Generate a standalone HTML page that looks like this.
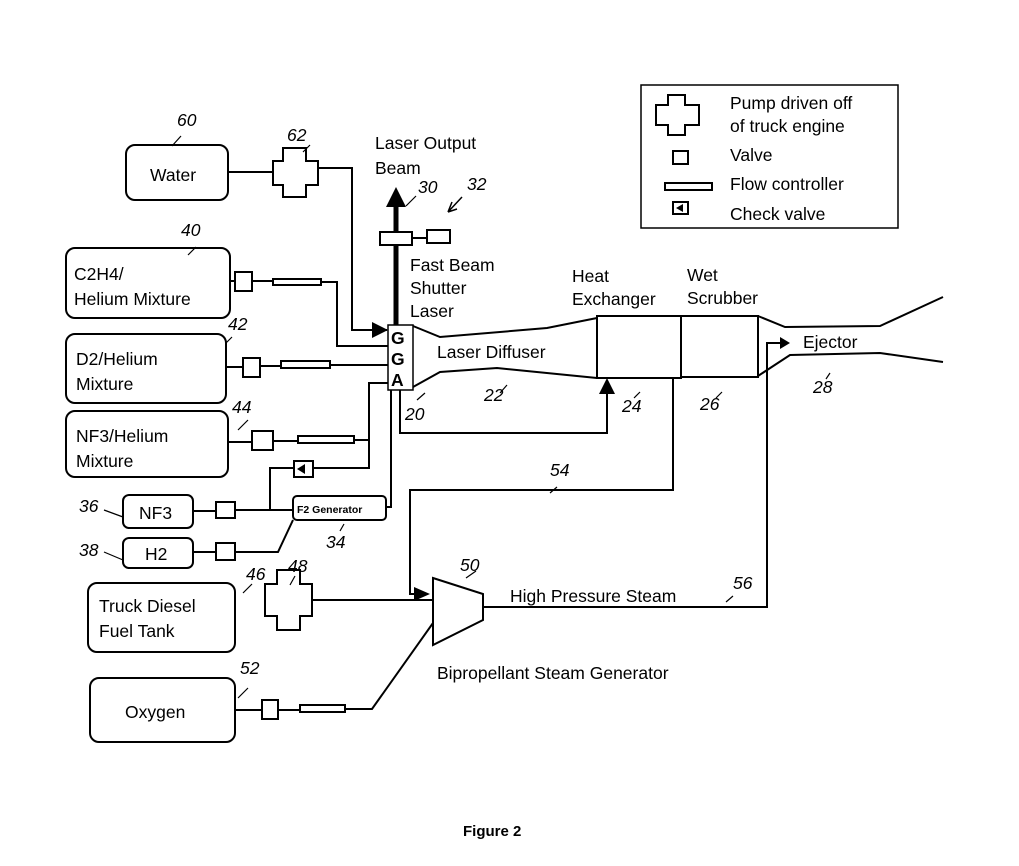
<!DOCTYPE html>
<html><head><style>
body{margin:0;background:#fff}
svg{display:block}
text{font-family:"Liberation Sans",sans-serif;font-size:17.5px;fill:#000}
.i{font-style:italic}
</style></head><body>
<svg width="1019" height="866" viewBox="0 0 1019 866" xmlns="http://www.w3.org/2000/svg">
<defs>
<marker id="b" markerWidth="16" markerHeight="16" refX="15" refY="8" orient="auto" markerUnits="userSpaceOnUse"><path d="M0,0 L16,8 L0,16z"/></marker>
</defs>
<g fill="none" stroke="#000" stroke-width="2">
<rect x="641" y="85" width="257" height="143" stroke-width="1.5"/>
<path d="M668,95 h17 v10 h14 v20 h-14 v10 h-17 v-10 h-12 v-20 h12z"/>
<rect x="673" y="151" width="15" height="13"/>
<rect x="665" y="183" width="47" height="7"/>
<rect x="673" y="202" width="15" height="12"/>
<rect x="126" y="145" width="102" height="55" rx="9"/>
<rect x="66" y="248" width="164" height="70" rx="9"/>
<rect x="66" y="334" width="160" height="69" rx="9"/>
<rect x="66" y="411" width="162" height="66" rx="9"/>
<rect x="123" y="495" width="70" height="33" rx="6"/>
<rect x="123" y="538" width="70" height="30" rx="6"/>
<rect x="88" y="583" width="147" height="69" rx="9"/>
<rect x="90" y="678" width="145" height="64" rx="9"/>
<path d="M283,148 h23 v13 h12 v24 h-12 v12 h-23 v-12 h-10 v-24 h10z"/>
<path d="M277,570 h23 v14 h12 v32 h-12 v14 h-23 v-14 h-12 v-32 h12z"/>
<path d="M228,172 H273 M318,168 H352 V330 H387" marker-end="url(#b)"/>
<path d="M230,281 H235 M252,281 H273 M321,282 H337 V346 H388"/>
<rect x="235" y="272" width="17" height="19"/>
<rect x="273" y="279" width="48" height="6"/>
<path d="M226,367 H243 M260,366 H281 M330,365 H388"/>
<rect x="243" y="358" width="17" height="19"/>
<rect x="281" y="361" width="49" height="7"/>
<path d="M228,442 H252 M273,441 H298 M354,440 H369 V383 H388 M369,440 V468 H313 M294,468 H270 V510"/>
<rect x="252" y="431" width="21" height="19"/>
<rect x="298" y="436" width="56" height="7"/>
<rect x="294" y="461" width="19" height="16"/>
<path d="M193,511 H216 M235,510 H293 M193,552 H216 M235,552 H278 L293,520 M386,507 H391 V390"/>
<rect x="216" y="502" width="19" height="16"/>
<rect x="216" y="543" width="19" height="17"/>
<rect x="293" y="496" width="93" height="24" rx="4"/>
<rect x="388" y="325" width="25" height="65" stroke-width="1.5"/>
<path d="M396,325 V205" stroke-width="5"/>
<rect x="380" y="232" width="32" height="13" fill="#fff"/>
<path d="M412,238 H427"/>
<rect x="427" y="230" width="23" height="13"/>
<path d="M413,326 L440,337 L547,328 L597,318 M413,387 L440,372 L497,368 L597,378"/>
<rect x="597" y="316" width="84" height="62"/>
<rect x="681" y="316" width="77" height="61"/>
<path d="M758,316 L785,327 L880,326 L943,297 M758,376 L790,355 L880,353 L943,362"/>
<path d="M400,390 V433 H607 V385"/>
<path d="M673,377 V490 H410 V594 H427"/>
<path d="M433,578 L483,594 L483,620 L433,645z"/>
<path d="M312,600 H433 M235,710 H262 M278,710 H300 M345,709 H372 L433,623"/>
<rect x="262" y="700" width="16" height="19"/>
<rect x="300" y="705" width="45" height="7"/>
<path d="M483,607 H767 V343 H782"/>
<g stroke-width="1.2">
<path d="M181,136 L172,146 M196,247 L188,255 M232,337 L226,343 M248,420 L238,430 M104,510 L123,517 M104,552 L123,560 M252,584 L243,593 M295,576 L290,585 M248,688 L238,698 M476,571 L466,578 M425,393 L417,400 M507,385 L500,393 M640,392 L634,398 M722,392 L716,398 M830,373 L826,379 M344,524 L340,531 M733,596 L726,602 M557,487 L550,493 M416,196 L406,206 M310,145 L303,152"/>
</g>
</g>
<path d="M396,187 L386,207 L406,207z"/>
<path d="M607,378 L599,394 L615,394z"/>
<path d="M430,594 L414,587 L414,601z"/>
<path d="M790,343 L780,337 L780,349z"/>
<path d="M297,469 L305,464 L305,474z"/>
<path d="M676,208 L683,204 L683,212z"/>
<path d="M448,212 L452,202 M448,212 L457,209 M448,212 L462,197" stroke="#000" stroke-width="1.5" fill="none"/>
<text x="730" y="109">Pump driven off</text>
<text x="730" y="132">of  truck engine</text>
<text x="730" y="161">Valve</text>
<text x="730" y="190">Flow controller</text>
<text x="730" y="220">Check valve</text>
<text x="150" y="181">Water</text>
<text x="74" y="280">C2H4/</text>
<text x="74" y="305">Helium Mixture</text>
<text x="76" y="365">D2/Helium</text>
<text x="76" y="390">Mixture</text>
<text x="76" y="442">NF3/Helium</text>
<text x="76" y="467">Mixture</text>
<text x="139" y="519">NF3</text>
<text x="145" y="560">H2</text>
<text x="99" y="612">Truck Diesel</text>
<text x="99" y="637">Fuel Tank</text>
<text x="125" y="718">Oxygen</text>
<text x="297" y="513" style="font-size:10.5px;font-weight:bold">F2 Generator</text>
<text x="391" y="344" style="font-weight:bold">G</text>
<text x="391" y="365" style="font-weight:bold">G</text>
<text x="391" y="386" style="font-weight:bold">A</text>
<text x="375" y="149">Laser Output</text>
<text x="375" y="174">Beam</text>
<text x="410" y="271">Fast Beam</text>
<text x="410" y="294">Shutter</text>
<text x="410" y="317">Laser</text>
<text x="437" y="358">Laser Diffuser</text>
<text x="572" y="282">Heat</text>
<text x="572" y="305">Exchanger</text>
<text x="687" y="281">Wet</text>
<text x="687" y="304">Scrubber</text>
<text x="803" y="348">Ejector</text>
<text x="510" y="602">High Pressure Steam</text>
<text x="437" y="679">Bipropellant Steam Generator</text>
<text x="463" y="836" style="font-weight:bold;font-size:15px">Figure 2</text>
<g class="i">
<text x="177" y="126">60</text>
<text x="287" y="141">62</text>
<text x="418" y="193">30</text>
<text x="467" y="190">32</text>
<text x="181" y="236">40</text>
<text x="228" y="330">42</text>
<text x="232" y="413">44</text>
<text x="79" y="512">36</text>
<text x="79" y="556">38</text>
<text x="326" y="548">34</text>
<text x="405" y="420">20</text>
<text x="484" y="401">22</text>
<text x="622" y="412">24</text>
<text x="700" y="410">26</text>
<text x="813" y="393">28</text>
<text x="550" y="476">54</text>
<text x="460" y="571">50</text>
<text x="733" y="589">56</text>
<text x="246" y="580">46</text>
<text x="288" y="572">48</text>
<text x="240" y="674">52</text>
</g>
</svg>
</body></html>
